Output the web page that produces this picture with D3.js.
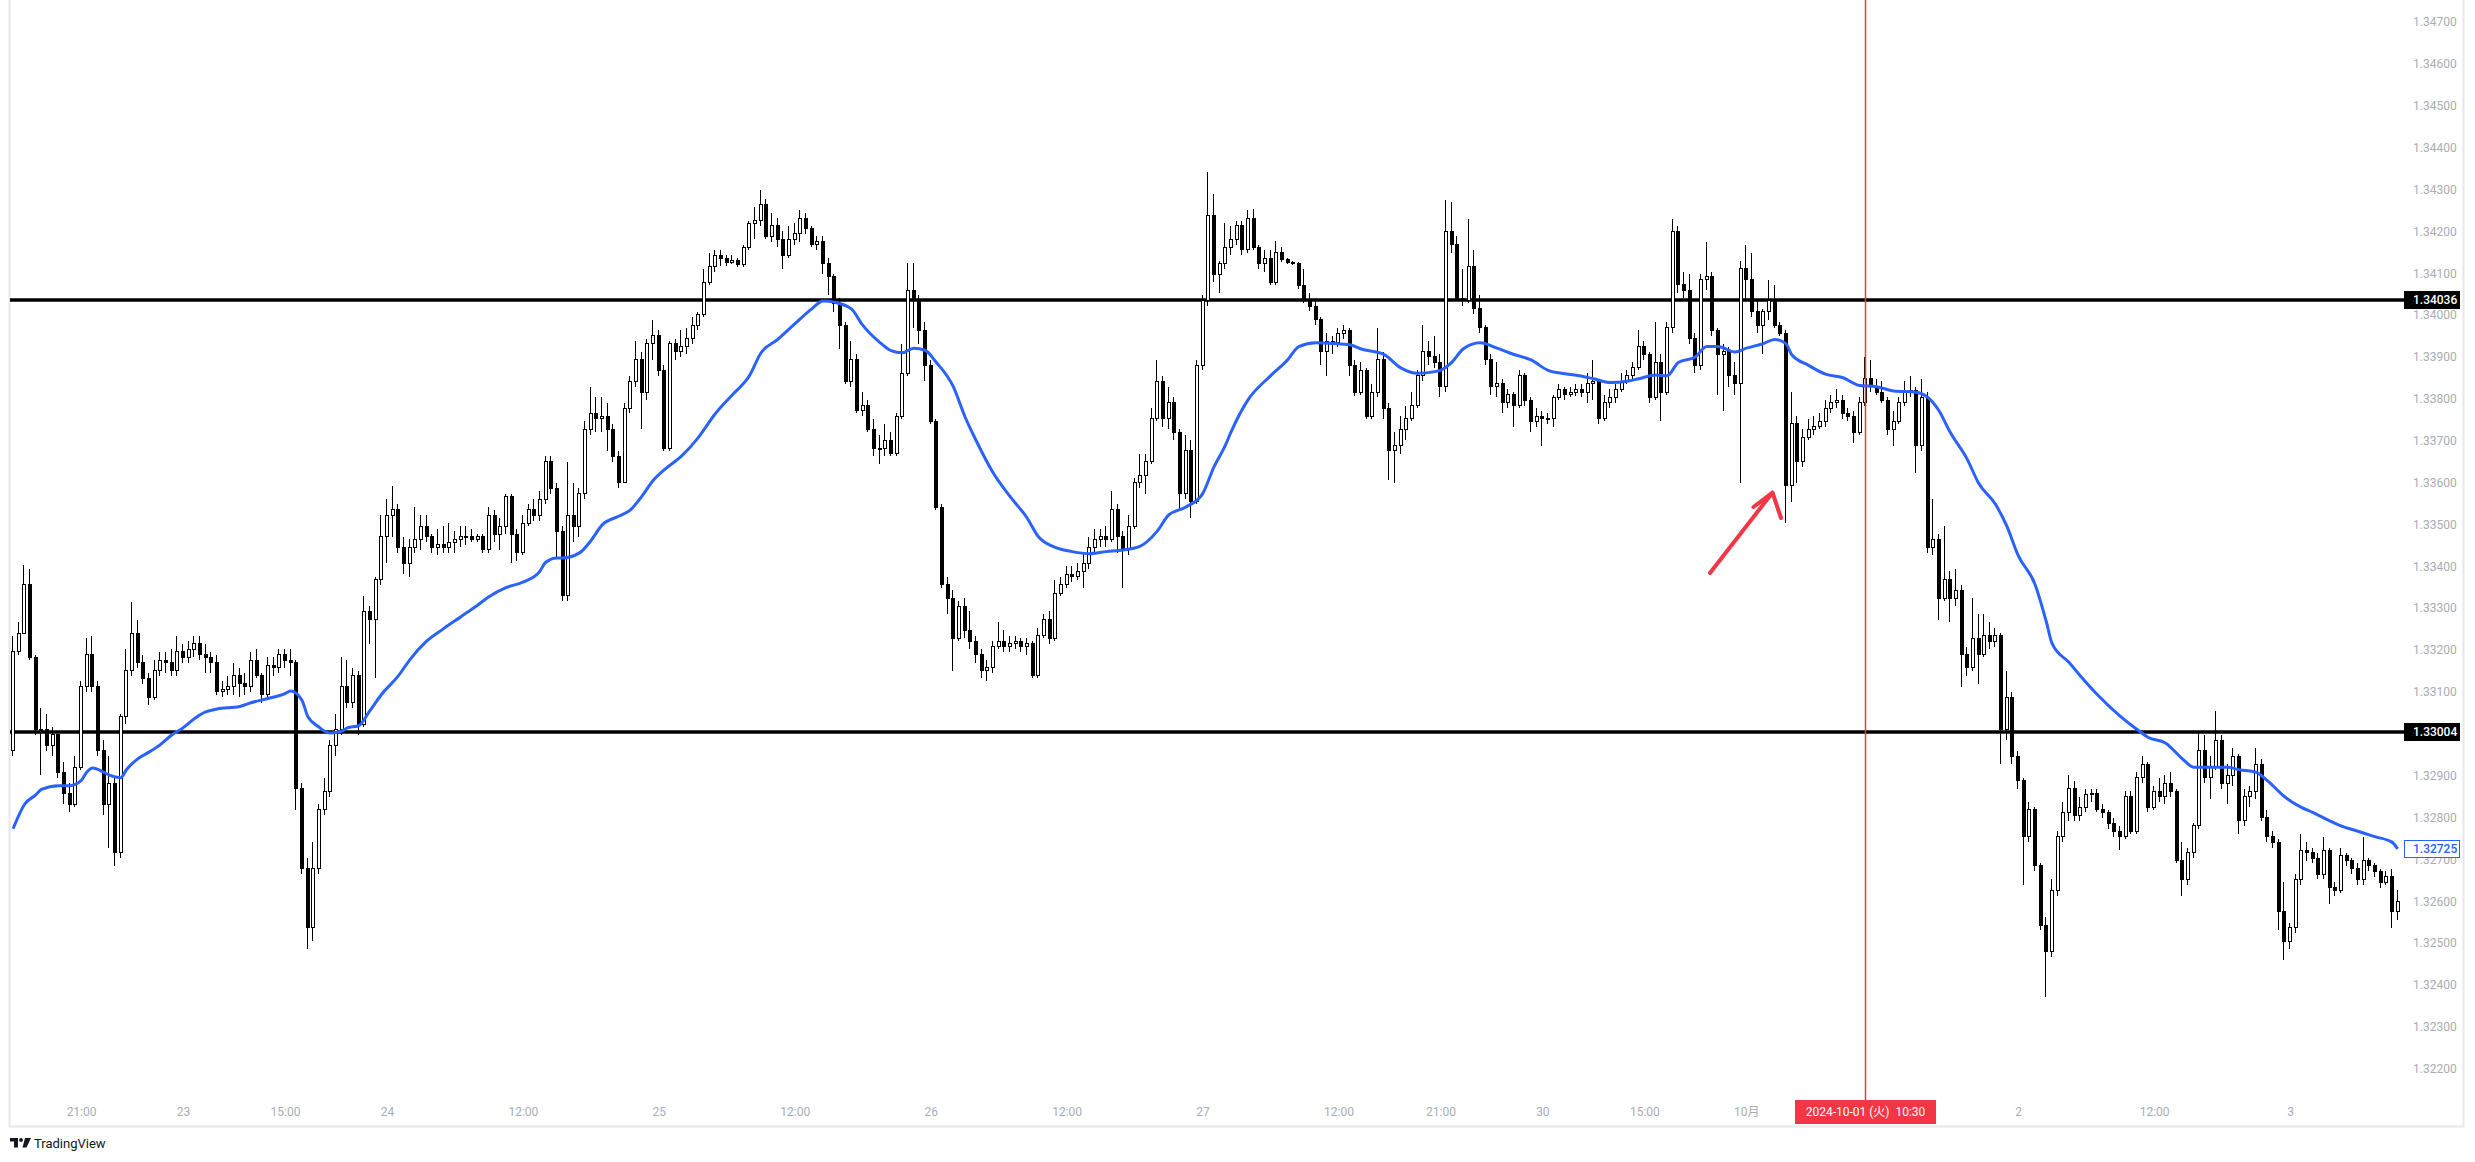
<!DOCTYPE html>
<html>
<head>
<meta charset="utf-8">
<script src="https://cdn.jsdelivr.net/npm/d3@7"></script>
<style>
  body { margin: 0; background: #fff; }
  svg { display: block; font-family: Roboto, "Liberation Sans", sans-serif; }
</style>
</head>
<body>
<svg id="chart"></svg>
<script>
// GBPUSD 30分足 (JST) 2024-09-20 15:00 〜 2024-10-03 09:30
const levels = [1.34036, 1.33004];
const firstOpen = 1.32959;

const closes = [
  1.33196, 1.33240, 1.33356, 1.33183, 1.33010, 1.33010, 1.32972, 1.32997, 1.32908, 1.32856,
  1.32831, 1.32920, 1.33112, 1.33189, 1.33112, 1.32959, 1.32831, 1.32882, 1.32716, 1.33042,
  1.33151, 1.33240, 1.33170, 1.33132, 1.33087, 1.33151, 1.33176, 1.33170, 1.33151, 1.33196,
  1.33183, 1.33202, 1.33215, 1.33189, 1.33183, 1.33170, 1.33100, 1.33106, 1.33112, 1.33138,
  1.33119, 1.33112, 1.33176, 1.33138, 1.33093, 1.33164, 1.33157, 1.33189, 1.33176, 1.33170,
  1.32869, 1.32677, 1.32536, 1.32677, 1.32818, 1.32863, 1.32972, 1.33010, 1.33112, 1.33074,
  1.33138, 1.33023, 1.33292, 1.33272, 1.33368, 1.33471, 1.33522, 1.33535, 1.33445, 1.33407,
  1.33445, 1.33464, 1.33496, 1.33471, 1.33445, 1.33452, 1.33445, 1.33458, 1.33464, 1.33471,
  1.33471, 1.33464, 1.33471, 1.33439, 1.33522, 1.33477, 1.33496, 1.33567, 1.33477, 1.33432,
  1.33503, 1.33535, 1.33522, 1.33560, 1.33650, 1.33586, 1.33484, 1.33330, 1.33522, 1.33496,
  1.33573, 1.33727, 1.33765, 1.33752, 1.33759, 1.33727, 1.33663, 1.33599, 1.33778, 1.33842,
  1.33893, 1.33816, 1.33932, 1.33951, 1.33868, 1.33682, 1.33932, 1.33912, 1.33925, 1.33944,
  1.33976, 1.34002, 1.34079, 1.34117, 1.34143, 1.34136, 1.34126, 1.34130, 1.34121, 1.34162,
  1.34220, 1.34226, 1.34264, 1.34188, 1.34213, 1.34181, 1.34143, 1.34181, 1.34194, 1.34232,
  1.34207, 1.34168, 1.34175, 1.34124, 1.34092, 1.34028, 1.33976, 1.33842, 1.33893, 1.33772,
  1.33784, 1.33727, 1.33682, 1.33682, 1.33701, 1.33669, 1.33759, 1.33861, 1.34060, 1.34034,
  1.33964, 1.33880, 1.33746, 1.33541, 1.33356, 1.33324, 1.33228, 1.33304, 1.33247, 1.33221,
  1.33189, 1.33151, 1.33157, 1.33208, 1.33221, 1.33208, 1.33215, 1.33221, 1.33208, 1.33215,
  1.33138, 1.33234, 1.33272, 1.33228, 1.33336, 1.33356, 1.33381, 1.33375, 1.33388, 1.33407,
  1.33445, 1.33464, 1.33471, 1.33464, 1.33535, 1.33471, 1.33439, 1.33496, 1.33599, 1.33618,
  1.33650, 1.33752, 1.33842, 1.33752, 1.33791, 1.33720, 1.33573, 1.33676, 1.33554, 1.33880,
  1.34034, 1.34239, 1.34098, 1.34124, 1.34162, 1.34181, 1.34213, 1.34156, 1.34232, 1.34162,
  1.34124, 1.34136, 1.34079, 1.34149, 1.34134, 1.34126, 1.34124, 1.34070, 1.34034, 1.34021,
  1.33989, 1.33912, 1.33938, 1.33934, 1.33957, 1.33964, 1.33880, 1.33816, 1.33868, 1.33759,
  1.33816, 1.33893, 1.33778, 1.33676, 1.33688, 1.33727, 1.33752, 1.33784, 1.33855, 1.33912,
  1.33900, 1.33887, 1.33829, 1.34200, 1.34168, 1.34040, 1.34034, 1.34117, 1.34015, 1.33970,
  1.33893, 1.33829, 1.33836, 1.33791, 1.33810, 1.33784, 1.33855, 1.33797, 1.33746, 1.33759,
  1.33752, 1.33752, 1.33804, 1.33823, 1.33810, 1.33816, 1.33823, 1.33816, 1.33836, 1.33842,
  1.33752, 1.33791, 1.33804, 1.33823, 1.33842, 1.33855, 1.33874, 1.33925, 1.33906, 1.33804,
  1.33887, 1.33816, 1.33970, 1.34200, 1.34072, 1.34060, 1.33944, 1.33880, 1.34085, 1.34092,
  1.33964, 1.33906, 1.33912, 1.33855, 1.33836, 1.34111, 1.34085, 1.34008, 1.33976, 1.34008,
  1.34034, 1.33976, 1.33957, 1.33592, 1.33740, 1.33650, 1.33708, 1.33727, 1.33733, 1.33746,
  1.33778, 1.33791, 1.33797, 1.33765, 1.33759, 1.33720, 1.33791, 1.33848, 1.33829, 1.33816,
  1.33797, 1.33727, 1.33746, 1.33791, 1.33816, 1.33819, 1.33688, 1.33804, 1.33445, 1.33464,
  1.33324, 1.33368, 1.33324, 1.33343, 1.33189, 1.33157, 1.33228, 1.33189, 1.33234, 1.33221,
  1.33234, 1.33010, 1.33087, 1.32946, 1.32888, 1.32754, 1.32818, 1.32684, 1.32543, 1.32479,
  1.32626, 1.32754, 1.32812, 1.32869, 1.32805, 1.32824, 1.32854, 1.32856, 1.32818, 1.32812,
  1.32786, 1.32767, 1.32754, 1.32850, 1.32767, 1.32895, 1.32927, 1.32824, 1.32863, 1.32850,
  1.32882, 1.32863, 1.32696, 1.32652, 1.32716, 1.32780, 1.32959, 1.32895, 1.32920, 1.32984,
  1.32882, 1.32901, 1.32946, 1.32792, 1.32850, 1.32863, 1.32927, 1.32799, 1.32754, 1.32741,
  1.32575, 1.32504, 1.32536, 1.32652, 1.32722, 1.32716, 1.32703, 1.32664, 1.32722, 1.32632,
  1.32626, 1.32709, 1.32696, 1.32677, 1.32652, 1.32696, 1.32684, 1.32671, 1.32645, 1.32658,
  1.32575, 1.32600
];

const highs = [
  1.33234, 1.33266, 1.33404, 1.33394, 1.33189, 1.33061, 1.33048, 1.33016, 1.32965, 1.32933,
  1.32882, 1.32946, 1.33125, 1.33228, 1.33234, 1.33125, 1.32984, 1.32946, 1.32895, 1.33048,
  1.33202, 1.33315, 1.33272, 1.33189, 1.33144, 1.33176, 1.33196, 1.33196, 1.33202, 1.33234,
  1.33215, 1.33221, 1.33234, 1.33234, 1.33215, 1.33196, 1.33189, 1.33125, 1.33138, 1.33170,
  1.33157, 1.33144, 1.33196, 1.33202, 1.33144, 1.33183, 1.33183, 1.33202, 1.33202, 1.33202,
  1.33176, 1.32882, 1.32703, 1.32741, 1.32831, 1.32895, 1.32984, 1.33048, 1.33183, 1.33176,
  1.33157, 1.33151, 1.33330, 1.33304, 1.33375, 1.33522, 1.33560, 1.33592, 1.33548, 1.33471,
  1.33464, 1.33541, 1.33522, 1.33522, 1.33477, 1.33490, 1.33496, 1.33503, 1.33484, 1.33496,
  1.33496, 1.33490, 1.33477, 1.33477, 1.33541, 1.33535, 1.33516, 1.33573, 1.33573, 1.33490,
  1.33522, 1.33548, 1.33560, 1.33580, 1.33663, 1.33663, 1.33599, 1.33496, 1.33650, 1.33599,
  1.33586, 1.33746, 1.33829, 1.33804, 1.33804, 1.33791, 1.33740, 1.33676, 1.33791, 1.33855,
  1.33938, 1.33912, 1.33944, 1.33989, 1.33964, 1.33880, 1.33938, 1.33944, 1.33964, 1.33970,
  1.33996, 1.34008, 1.34111, 1.34149, 1.34156, 1.34156, 1.34143, 1.34143, 1.34136, 1.34168,
  1.34226, 1.34258, 1.34300, 1.34277, 1.34245, 1.34232, 1.34200, 1.34213, 1.34220, 1.34252,
  1.34245, 1.34213, 1.34188, 1.34188, 1.34136, 1.34098, 1.34040, 1.33983, 1.33938, 1.33906,
  1.33816, 1.33797, 1.33752, 1.33714, 1.33740, 1.33720, 1.33765, 1.33932, 1.34124, 1.34124,
  1.34047, 1.33983, 1.33893, 1.33752, 1.33548, 1.33375, 1.33343, 1.33317, 1.33324, 1.33292,
  1.33234, 1.33202, 1.33176, 1.33221, 1.33266, 1.33247, 1.33234, 1.33234, 1.33228, 1.33228,
  1.33221, 1.33253, 1.33285, 1.33292, 1.33368, 1.33375, 1.33400, 1.33400, 1.33407, 1.33432,
  1.33471, 1.33490, 1.33490, 1.33496, 1.33580, 1.33548, 1.33484, 1.33522, 1.33612, 1.33669,
  1.33669, 1.33778, 1.33893, 1.33855, 1.33829, 1.33804, 1.33727, 1.33714, 1.33701, 1.33893,
  1.34047, 1.34341, 1.34290, 1.34130, 1.34220, 1.34213, 1.34226, 1.34226, 1.34252, 1.34254,
  1.34168, 1.34156, 1.34156, 1.34177, 1.34162, 1.34136, 1.34130, 1.34126, 1.34111, 1.34053,
  1.34034, 1.33996, 1.33957, 1.33951, 1.33970, 1.33976, 1.33970, 1.33893, 1.33887, 1.33874,
  1.33836, 1.33970, 1.33912, 1.33791, 1.33720, 1.33759, 1.33784, 1.33816, 1.33868, 1.33976,
  1.33938, 1.33951, 1.33906, 1.34275, 1.34271, 1.34188, 1.34111, 1.34229, 1.34156, 1.34047,
  1.33976, 1.33906, 1.33887, 1.33848, 1.33823, 1.33816, 1.33868, 1.33861, 1.33804, 1.33778,
  1.33772, 1.33765, 1.33810, 1.33836, 1.33829, 1.33829, 1.33836, 1.33836, 1.33861, 1.33893,
  1.33848, 1.33810, 1.33823, 1.33836, 1.33861, 1.33868, 1.33887, 1.33964, 1.33938, 1.33912,
  1.33983, 1.33906, 1.33983, 1.34229, 1.34213, 1.34104, 1.34098, 1.33957, 1.34098, 1.34175,
  1.34104, 1.33970, 1.33932, 1.33925, 1.33887, 1.34130, 1.34168, 1.34149, 1.34034, 1.34015,
  1.34083, 1.34072, 1.33983, 1.33964, 1.33816, 1.33759, 1.33727, 1.33752, 1.33759, 1.33765,
  1.33797, 1.33810, 1.33823, 1.33810, 1.33778, 1.33772, 1.33804, 1.33900, 1.33893, 1.33848,
  1.33842, 1.33804, 1.33772, 1.33804, 1.33842, 1.33855, 1.33829, 1.33848, 1.33816, 1.33560,
  1.33477, 1.33496, 1.33388, 1.33394, 1.33356, 1.33208, 1.33324, 1.33285, 1.33285, 1.33266,
  1.33253, 1.33240, 1.33151, 1.33100, 1.32959, 1.32895, 1.32837, 1.32824, 1.32690, 1.32562,
  1.32652, 1.32767, 1.32837, 1.32901, 1.32888, 1.32850, 1.32869, 1.32869, 1.32869, 1.32831,
  1.32818, 1.32799, 1.32780, 1.32863, 1.32863, 1.32908, 1.32946, 1.32933, 1.32876, 1.32895,
  1.32901, 1.32908, 1.32869, 1.32741, 1.32728, 1.32786, 1.33004, 1.32997, 1.32946, 1.33055,
  1.32997, 1.32927, 1.32965, 1.32952, 1.32869, 1.32876, 1.32965, 1.32940, 1.32818, 1.32767,
  1.32748, 1.32645, 1.32549, 1.32664, 1.32760, 1.32741, 1.32728, 1.32716, 1.32754, 1.32728,
  1.32645, 1.32728, 1.32716, 1.32703, 1.32690, 1.32754, 1.32703, 1.32690, 1.32677, 1.32671,
  1.32677, 1.32626
];

const lows = [
  1.32946, 1.33189, 1.33260, 1.33176, 1.32997, 1.32901, 1.32959, 1.32946, 1.32895, 1.32831,
  1.32812, 1.32824, 1.32914, 1.33100, 1.33100, 1.32946, 1.32805, 1.32728, 1.32684, 1.32703,
  1.33023, 1.33138, 1.33157, 1.33119, 1.33068, 1.33080, 1.33138, 1.33144, 1.33138, 1.33138,
  1.33170, 1.33170, 1.33183, 1.33176, 1.33144, 1.33144, 1.33093, 1.33087, 1.33093, 1.33093,
  1.33087, 1.33093, 1.33100, 1.33132, 1.33074, 1.33087, 1.33138, 1.33144, 1.33157, 1.33138,
  1.32818, 1.32664, 1.32485, 1.32504, 1.32664, 1.32805, 1.32850, 1.32946, 1.32997, 1.33061,
  1.33061, 1.32997, 1.33016, 1.33215, 1.33132, 1.33356, 1.33407, 1.33471, 1.33432, 1.33381,
  1.33375, 1.33432, 1.33439, 1.33458, 1.33432, 1.33426, 1.33432, 1.33432, 1.33432, 1.33445,
  1.33452, 1.33458, 1.33458, 1.33432, 1.33432, 1.33458, 1.33439, 1.33477, 1.33407, 1.33413,
  1.33426, 1.33496, 1.33509, 1.33509, 1.33548, 1.33573, 1.33420, 1.33317, 1.33317, 1.33458,
  1.33471, 1.33560, 1.33714, 1.33720, 1.33720, 1.33676, 1.33650, 1.33586, 1.33650, 1.33765,
  1.33829, 1.33727, 1.33797, 1.33893, 1.33855, 1.33676, 1.33676, 1.33893, 1.33900, 1.33906,
  1.33932, 1.33964, 1.33996, 1.34072, 1.34104, 1.34117, 1.34117, 1.34121, 1.34116, 1.34116,
  1.34156, 1.34181, 1.34213, 1.34181, 1.34175, 1.34162, 1.34111, 1.34136, 1.34168, 1.34175,
  1.34194, 1.34162, 1.34156, 1.34098, 1.34047, 1.34008, 1.33919, 1.33836, 1.33829, 1.33765,
  1.33759, 1.33720, 1.33663, 1.33644, 1.33663, 1.33663, 1.33663, 1.33752, 1.33855, 1.33970,
  1.33932, 1.33842, 1.33740, 1.33535, 1.33349, 1.33285, 1.33151, 1.33221, 1.33228, 1.33202,
  1.33170, 1.33132, 1.33125, 1.33144, 1.33202, 1.33196, 1.33196, 1.33202, 1.33196, 1.33189,
  1.33132, 1.33132, 1.33228, 1.33215, 1.33221, 1.33330, 1.33349, 1.33362, 1.33368, 1.33349,
  1.33394, 1.33432, 1.33445, 1.33445, 1.33458, 1.33432, 1.33349, 1.33426, 1.33490, 1.33586,
  1.33573, 1.33644, 1.33746, 1.33733, 1.33727, 1.33701, 1.33535, 1.33560, 1.33516, 1.33548,
  1.33868, 1.34021, 1.34079, 1.34053, 1.34111, 1.34143, 1.34168, 1.34143, 1.34149, 1.34156,
  1.34111, 1.34104, 1.34072, 1.34072, 1.34126, 1.34121, 1.34120, 1.34062, 1.34028, 1.34011,
  1.33976, 1.33880, 1.33855, 1.33906, 1.33925, 1.33944, 1.33855, 1.33806, 1.33810, 1.33752,
  1.33752, 1.33804, 1.33752, 1.33605, 1.33599, 1.33669, 1.33701, 1.33746, 1.33778, 1.33842,
  1.33880, 1.33874, 1.33804, 1.33816, 1.34149, 1.34034, 1.34021, 1.34028, 1.34002, 1.33957,
  1.33880, 1.33810, 1.33804, 1.33765, 1.33778, 1.33733, 1.33778, 1.33784, 1.33720, 1.33733,
  1.33688, 1.33740, 1.33733, 1.33797, 1.33797, 1.33804, 1.33806, 1.33804, 1.33791, 1.33797,
  1.33740, 1.33746, 1.33778, 1.33791, 1.33816, 1.33836, 1.33848, 1.33868, 1.33893, 1.33791,
  1.33797, 1.33746, 1.33810, 1.33957, 1.34053, 1.34040, 1.33932, 1.33861, 1.33868, 1.34060,
  1.33951, 1.33810, 1.33772, 1.33829, 1.33810, 1.33599, 1.34034, 1.33996, 1.33957, 1.33906,
  1.33989, 1.33970, 1.33951, 1.33503, 1.33554, 1.33599, 1.33637, 1.33701, 1.33714, 1.33727,
  1.33733, 1.33765, 1.33778, 1.33752, 1.33746, 1.33695, 1.33714, 1.33784, 1.33816, 1.33810,
  1.33791, 1.33714, 1.33688, 1.33740, 1.33784, 1.33804, 1.33624, 1.33676, 1.33432, 1.33426,
  1.33272, 1.33317, 1.33266, 1.33304, 1.33112, 1.33138, 1.33151, 1.33119, 1.33183, 1.33202,
  1.33208, 1.32927, 1.32984, 1.32927, 1.32869, 1.32639, 1.32741, 1.32671, 1.32530, 1.32372,
  1.32466, 1.32613, 1.32741, 1.32792, 1.32792, 1.32792, 1.32812, 1.32837, 1.32812, 1.32799,
  1.32773, 1.32754, 1.32722, 1.32748, 1.32760, 1.32760, 1.32882, 1.32812, 1.32818, 1.32837,
  1.32831, 1.32850, 1.32690, 1.32613, 1.32639, 1.32703, 1.32773, 1.32882, 1.32844, 1.32914,
  1.32869, 1.32831, 1.32876, 1.32760, 1.32780, 1.32824, 1.32844, 1.32792, 1.32741, 1.32728,
  1.32530, 1.32460, 1.32485, 1.32524, 1.32639, 1.32696, 1.32690, 1.32652, 1.32652, 1.32594,
  1.32613, 1.32620, 1.32684, 1.32664, 1.32639, 1.32639, 1.32671, 1.32658, 1.32632, 1.32639,
  1.32536, 1.32556
];

// 移動平均線 (バー番号と値)
const maBars = [
  0, 2, 4, 5, 8, 10, 12, 13, 14, 16, 17, 19, 20, 22, 24, 26, 28, 30, 32, 34,
  36, 40, 42, 45, 48, 49, 51, 52, 54, 55, 56, 58, 59, 61, 63, 65, 68, 70, 73, 76,
  79, 82, 84, 87, 90, 93, 94, 96, 97, 100, 102, 104, 107, 109, 111, 113, 115, 118, 121, 124,
  127, 130, 132, 135, 138, 141, 143, 145, 148, 150, 153, 155, 157, 159, 161, 163, 166, 168, 170, 173,
  176, 179, 181, 184, 187, 190, 193, 196, 199, 202, 204, 207, 210, 212, 214, 215, 218, 222, 225, 227,
  230, 233, 236, 238, 242, 245, 248, 251, 252, 254, 256, 259, 262, 265, 268, 271, 274, 277, 279, 282,
  285, 287, 290, 292, 294, 297, 299, 301, 304, 306, 309, 311, 313, 314, 317, 320, 323, 326, 329, 332,
  336, 338, 340, 342, 345, 347, 350, 352, 354, 357, 359, 360, 363, 365, 368, 372, 375, 377, 380, 383,
  385, 388, 391, 393, 396, 398, 401, 404, 406, 409, 411, 414, 417, 420, 421
];
const maValues = [
  1.32773, 1.32831, 1.32854, 1.32867, 1.32876, 1.32876, 1.32888, 1.32908, 1.32918, 1.32908,
  1.32901, 1.32895, 1.32914, 1.32940, 1.32956, 1.32974, 1.32997, 1.33014, 1.33036, 1.33052,
  1.33059, 1.33065, 1.33074, 1.33084, 1.33096, 1.33102, 1.33080, 1.33042, 1.33016, 1.33006,
  1.33002, 1.33006, 1.33014, 1.33019, 1.33055, 1.33093, 1.33138, 1.33176, 1.33221, 1.33251,
  1.33279, 1.33307, 1.33327, 1.33349, 1.33362, 1.33388, 1.33409, 1.33420, 1.33420, 1.33432,
  1.33461, 1.33499, 1.33520, 1.33535, 1.33567, 1.33605, 1.33631, 1.33663, 1.33708, 1.33765,
  1.33810, 1.33855, 1.33909, 1.33942, 1.33979, 1.34015, 1.34034, 1.34031, 1.34015, 1.33976,
  1.33935, 1.33915, 1.33910, 1.33921, 1.33916, 1.33887, 1.33829, 1.33759, 1.33701, 1.33624,
  1.33567, 1.33516, 1.33471, 1.33445, 1.33435, 1.33430, 1.33435, 1.33439, 1.33448, 1.33484,
  1.33522, 1.33541, 1.33573, 1.33637, 1.33688, 1.33720, 1.33797, 1.33855, 1.33893, 1.33925,
  1.33934, 1.33932, 1.33929, 1.33919, 1.33906, 1.33874, 1.33861, 1.33865, 1.33868, 1.33887,
  1.33919, 1.33934, 1.33921, 1.33906, 1.33893, 1.33868, 1.33860, 1.33854, 1.33848, 1.33839,
  1.33842, 1.33848, 1.33857, 1.33855, 1.33887, 1.33900, 1.33925, 1.33925, 1.33912, 1.33921,
  1.33932, 1.33942, 1.33932, 1.33906, 1.33880, 1.33859, 1.33851, 1.33832, 1.33829, 1.33819,
  1.33816, 1.33804, 1.33772, 1.33720, 1.33656, 1.33599, 1.33548, 1.33496, 1.33426, 1.33356,
  1.33266, 1.33215, 1.33170, 1.33138, 1.33093, 1.33042, 1.33010, 1.32991, 1.32978, 1.32940,
  1.32920, 1.32920, 1.32920, 1.32914, 1.32908, 1.32888, 1.32850, 1.32824, 1.32812, 1.32792,
  1.32780, 1.32767, 1.32754, 1.32741, 1.32725
];

const priceTicks = [
  1.322, 1.323, 1.324, 1.325, 1.326, 1.327, 1.328, 1.329, 1.330, 1.331, 1.332, 1.333, 1.334,
  1.335, 1.336, 1.337, 1.338, 1.339, 1.340, 1.341, 1.342, 1.343, 1.344, 1.345, 1.346, 1.347
];
const timeTickBars = [12, 30, 48, 66, 90, 114, 138, 162, 186, 210, 234, 252, 270, 288, 306, 354, 378, 402];
const timeTickLabels = ["21:00", "23", "15:00", "24", "12:00", "25", "12:00", "26", "12:00", "27",
                        "12:00", "21:00", "30", "15:00", "10月", "2", "12:00", "3"];
const cursorBar = 327;
const cursorLabel = "2024-10-01 (火)  10:30";

// 基本設定
const width = 2475, height = 1162;
const plotLeft = 9, plotRight = 2404;
const axisTextColor = "#a9acb4";
const frameColor = "#e6e8ee";
const red = "#f23645", blue = "#2962ff";

const svg = d3.select("#chart").attr("width", width).attr("height", height);
svg.append("rect").attr("width", width).attr("height", height).attr("fill", "#fff");

// スケール
const x = d3.scaleLinear()
  .domain([0, closes.length - 1])
  .range([13.1, 13.1 + 5.664 * (closes.length - 1)]);
const y = d3.scaleLinear().domain([1.322, 1.347]).range([1068.6, 22.1]);

// 枠線
svg.append("path")
  .attr("d", `M9.5,0V1126.5H2463.5V0`)
  .attr("fill", "none").attr("stroke", frameColor).attr("stroke-width", 2);

const plot = svg.append("g");
svg.append("clipPath").attr("id", "plotClip")
  .append("rect").attr("x", plotLeft + 1).attr("y", 0).attr("width", plotRight - plotLeft - 1).attr("height", 1100);
plot.attr("clip-path", "url(#plotClip)");

// 水平線
plot.selectAll("line.level").data(levels).join("line")
  .attr("class", "level")
  .attr("x1", plotLeft).attr("x2", plotRight)
  .attr("y1", d => y(d)).attr("y2", d => y(d))
  .attr("stroke", "#000").attr("stroke-width", 3.5);

// ローソク足
const bars = closes.map((c, i) => {
  const o = i === 0 ? firstOpen : closes[i - 1];
  return { i, o, c, h: Math.max(highs[i], o, c), l: Math.min(lows[i], o, c) };
});

const candles = plot.append("g").attr("shape-rendering", "crispEdges")
  .selectAll("g").data(bars).join("g");

candles.append("line")
  .attr("x1", d => Math.round(x(d.i)) - 0.5)
  .attr("x2", d => Math.round(x(d.i)) - 0.5)
  .attr("y1", d => y(d.h))
  .attr("y2", d => y(d.l))
  .attr("stroke", "#000").attr("stroke-width", 1);

candles.append("rect")
  .attr("x", d => Math.round(x(d.i)) - 1.5)
  .attr("width", 3)
  .attr("y", d => y(Math.max(d.o, d.c)))
  .attr("height", d => Math.max(1, Math.abs(y(d.o) - y(d.c))))
  .attr("fill", d => d.c >= d.o ? "#fff" : "#000")
  .attr("stroke", "#000").attr("stroke-width", 1);

// 移動平均線
const maLine = d3.line()
  .x((d, k) => x(maBars[k]))
  .y(d => y(d))
  .curve(d3.curveMonotoneX);
plot.append("path")
  .attr("d", maLine(maValues))
  .attr("fill", "none").attr("stroke", blue).attr("stroke-width", 3);

// クロスヘア
const cx = Math.round(x(cursorBar)) + 0.5;
svg.append("line")
  .attr("x1", cx).attr("x2", cx).attr("y1", 0).attr("y2", 1100)
  .attr("stroke", red).attr("stroke-width", 1.5);

// 矢印
svg.append("path")
  .attr("d", "M1710,573L1772.5,492.5M1753.5,507L1772.5,492.5L1781,518")
  .attr("fill", "none").attr("stroke", red).attr("stroke-width", 4)
  .attr("stroke-linecap", "round").attr("stroke-linejoin", "round");

// 価格軸
const yAxis = svg.append("g")
  .attr("transform", "translate(2413,0)")
  .call(d3.axisRight(y).tickValues(priceTicks).tickFormat(d3.format(".5f")).tickSize(0).tickPadding(0));
yAxis.select(".domain").remove();
yAxis.selectAll("text")
  .attr("fill", axisTextColor)
  .style("font-size", "12px")
  .style("font-family", "Roboto, sans-serif");

// 価格ラベル
const tags = [
  ...levels.map(v => ({ v, fill: "#000", stroke: "#000", text: "#fff" })),
  { v: maValues[maValues.length - 1], fill: "#fff", stroke: blue, text: blue }
];
const tag = svg.selectAll("g.tag").data(tags).join("g").attr("class", "tag");
tag.append("rect")
  .attr("x", 2404.5).attr("width", 55)
  .attr("y", d => Math.round(y(d.v)) - 8.5).attr("height", 17)
  .attr("fill", d => d.fill).attr("stroke", d => d.stroke).attr("stroke-width", 1);
tag.append("text")
  .attr("x", 2413).attr("y", d => y(d.v)).attr("dy", "0.35em")
  .attr("fill", d => d.text)
  .style("font-size", "12px").style("font-weight", 500)
  .text(d => d3.format(".5f")(d.v));

// 時間軸
const xAxis = svg.append("g")
  .attr("transform", "translate(0,1107)")
  .call(d3.axisBottom(x).tickValues(timeTickBars).tickFormat((d, k) => timeTickLabels[k]).tickSize(0).tickPadding(0));
xAxis.select(".domain").remove();
xAxis.selectAll("text")
  .attr("fill", axisTextColor)
  .style("font-size", "12px")
  .style("font-family", "Roboto, 'Noto Sans CJK JP', sans-serif");

// クロスヘアの時刻ラベル
svg.append("rect")
  .attr("x", cx - 70.5).attr("y", 1100).attr("width", 141).attr("height", 24)
  .attr("fill", red);
svg.append("text")
  .attr("x", cx).attr("y", 1112).attr("dy", "0.35em")
  .attr("text-anchor", "middle").attr("fill", "#fff")
  .attr("xml:space", "preserve")
  .style("white-space", "pre")
  .style("font-size", "12px")
  .style("font-family", "Roboto, 'Noto Sans CJK JP', sans-serif")
  .text(cursorLabel);

// TradingView ロゴ
const logo = svg.append("g").attr("fill", "#131722");
logo.append("rect").attr("x", 10).attr("y", 1138).attr("width", 8).attr("height", 3.5);
logo.append("rect").attr("x", 14).attr("y", 1138).attr("width", 4).attr("height", 9.5);
logo.append("circle").attr("cx", 21).attr("cy", 1140).attr("r", 1.9);
logo.append("path").attr("d", "M25,1138H31L26.5,1147.5H22.5Z");
svg.append("text")
  .attr("x", 34).attr("y", 1143).attr("dy", "0.35em")
  .attr("fill", "#131722")
  .style("font-size", "13px")
  .style("font-family", "Roboto, sans-serif")
  .text("TradingView");
</script>
</body>
</html>
